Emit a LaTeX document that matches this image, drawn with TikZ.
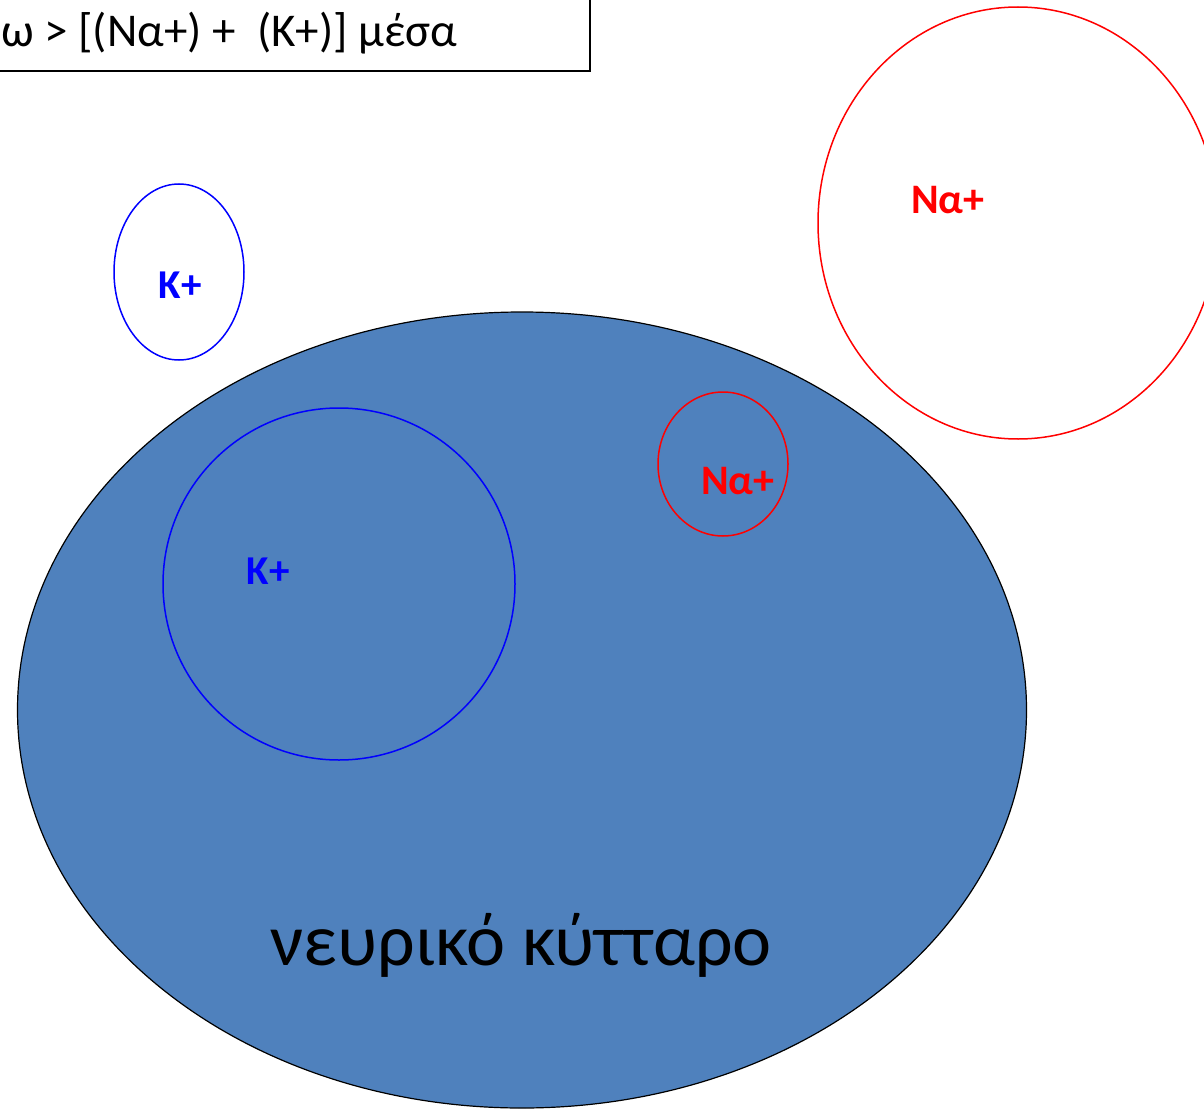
\documentclass[tikz,border=0pt]{standalone}
\usepackage{fontspec}
\setmainfont{Carlito}
\definecolor{cellblue}{HTML}{4F81BD}
\definecolor{kblue}{HTML}{0000FF}
\definecolor{nared}{HTML}{FF0000}
\begin{document}
\begin{tikzpicture}[x=1pt,y=-1pt,
  klabel/.style={text=kblue,font=\fontsize{41}{44}\selectfont\bfseries,inner sep=0pt},
  nalabel/.style={text=nared,font=\fontsize{42}{44}\selectfont\bfseries,inner sep=0pt},
  kion/.style={draw=kblue,line width=1.5pt},
  naion/.style={draw=nared,line width=1.5pt}]
\useasboundingbox (0,0) rectangle (1204,1110);
\clip (0,0) rectangle (1204,1110);
% header box
\draw[line width=1.5pt] (-20,-20) rectangle (590,71);
\node[anchor=base east,inner sep=0pt,font=\fontsize{47}{50}\selectfont] (hdr) at (457,47) {ω > [(Να+) +\ \ (K+)] μέσα};
% cell
\draw[fill=cellblue,draw=black,line width=1.2pt] (522,710) ellipse [x radius=504.5,y radius=398];
\node[inner sep=0pt,font=\fontsize{74}{78}\selectfont,anchor=base] (cell) at (521,965) {νευρικό κύτταρο};
% ions
\draw[kion] (179,272) ellipse [x radius=65,y radius=88];
\node[klabel,anchor=base] (k1) at (180,298) {K+};
\draw[kion] (339,584) ellipse [x radius=176,y radius=176];
\node[klabel,anchor=base] (k2) at (268,584) {K+};
\draw[naion] (723,464) ellipse [x radius=65,y radius=72];
\node[nalabel,anchor=base] (na1) at (738,494) {Να+};
\draw[naion] (1018,223) ellipse [x radius=200,y radius=216];
\node[nalabel,anchor=base] (na2) at (948,213) {Να+};
\end{tikzpicture}
\end{document}
